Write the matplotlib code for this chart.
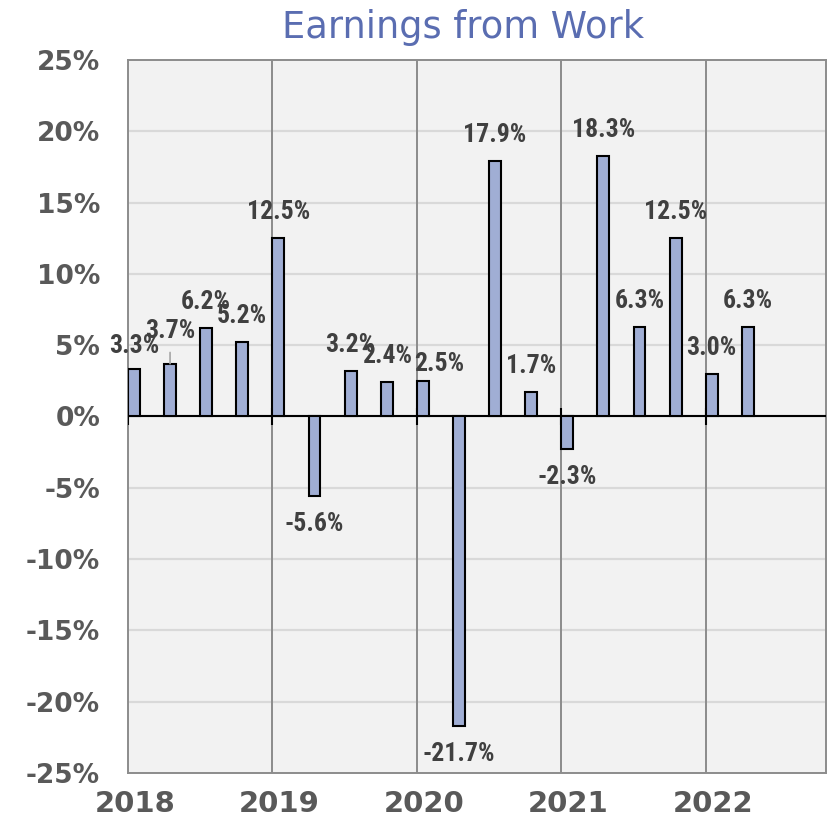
import numpy as np
import matplotlib.pyplot as plt
import matplotlib.transforms as mtransforms

# quarterly change, 2018 Q1 .. 2022 Q2
values = [3.3, 3.7, 6.2, 5.2, 12.5, -5.6, 3.2, 2.4, 2.5, -21.7,
          17.9, 1.7, -2.3, 18.3, 6.3, 12.5, 3.0, 6.3]
years = ['2018', '2019', '2020', '2021', '2022']
y_ticks = [-25, -20, -15, -10, -5, 0, 5, 10, 15, 20, 25]

title_color = '#5a6db1'
tick_color = '#595959'
label_color = '#404040'
bar_color = '#a0aed4'

fig = plt.figure(figsize=(8.3, 8.24), dpi=100)
ax = fig.add_axes([0.1542, 0.0619, 0.8410, 0.8653])
ax.set_facecolor('#f2f2f2')

x = np.arange(len(values))
w = 0.33
ax.bar(x, values, width=w, align='edge', color=bar_color,
       edgecolor='black', linewidth=1.5, zorder=4)

ax.set_xlim(0, 19.33)
ax.set_ylim(-25, 25)

# horizontal grid
for t in y_ticks[1:-1]:
    ax.axhline(t, color='#d9d9d9', lw=1.6, zorder=1)
# year dividers
year_pos = [4 * i for i in range(len(years))]
for p in year_pos[1:]:
    ax.axvline(p, color='#8c8c8c', lw=1.4, zorder=2)
ax.axhline(0, color='black', lw=1.5, zorder=3)
ax.vlines(year_pos, -0.6, 0.6, color='black', lw=1.5, zorder=3)

for s in ax.spines.values():
    s.set_color('#8c8c8c')
    s.set_linewidth(1.4)

ax.set_yticks(y_ticks)
ax.set_yticklabels(['%d%%' % t for t in y_ticks])
ax.set_xticks(year_pos)
ax.set_xticklabels(years)
ax.tick_params(axis='y', length=0, pad=20, labelsize=19, labelcolor=tick_color)
ax.tick_params(axis='x', length=0, pad=12, labelsize=21, labelcolor=tick_color)
shift = mtransforms.ScaledTranslation(7 / 100, 0, fig.dpi_scale_trans)
for lab in ax.get_xticklabels():
    lab.set_fontweight('bold')
    lab.set_transform(lab.get_transform() + shift)
for lab in ax.get_yticklabels():
    lab.set_fontweight('bold')

# data labels (offsets in pixels, a few nudged like the original)
nudge = {0: (0, 23), 1: (0, 33), 8: (16, 17)}
for i, v in enumerate(values):
    dx, dy = nudge.get(i, (0, 26 if v >= 0 else -28))
    arrow = None
    if i == 1:
        arrow = dict(arrowstyle='-', color='#a6a6a6', lw=1.2, shrinkA=5, shrinkB=0)
    ax.annotate('%.1f%%' % v, xy=(i + w / 2, v),
                xytext=(dx * 0.72, dy * 0.72), textcoords='offset points',
                ha='center', va='center', fontsize=18.5, fontweight='bold',
                color=label_color, family=['Roboto Condensed', 'DejaVu Sans'],
                arrowprops=arrow, zorder=5)

fig.text(0.558, 0.967, 'Earnings from Work', ha='center', va='center',
         fontsize=26.5, color=title_color)

fig.savefig('out.png', dpi=100)
